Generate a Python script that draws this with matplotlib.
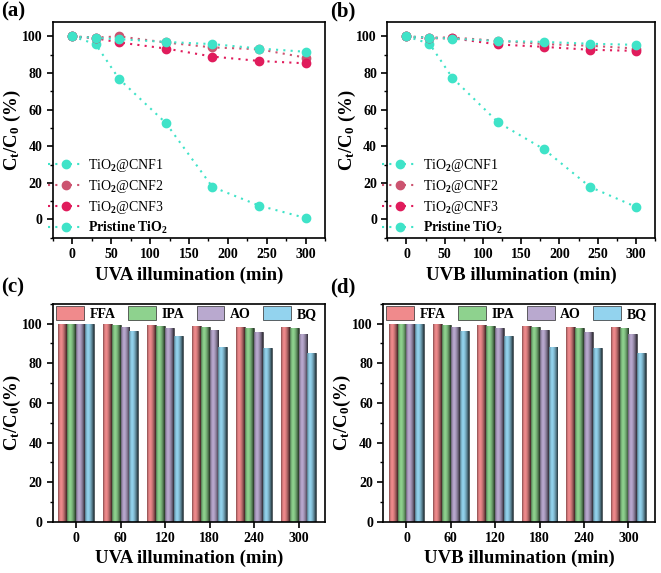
import matplotlib.pyplot as plt
from matplotlib.ticker import MultipleLocator
from matplotlib.colors import to_rgb
import numpy as np

plt.rcParams['font.family'] = ['Liberation Serif', 'DejaVu Serif']
plt.rcParams['font.weight'] = 'bold'
plt.rcParams['axes.linewidth'] = 1.2
plt.rcParams['mathtext.fontset'] = 'custom'
plt.rcParams['mathtext.rm'] = 'Liberation Serif:bold'
plt.rcParams['mathtext.it'] = 'Liberation Serif:bold'
plt.rcParams['mathtext.bf'] = 'Liberation Serif:bold'

# data for line plots (a) and (b)
t_min = [0, 30, 60, 120, 180, 240, 300]
series_names = ['TiO$_2$@CNF1', 'TiO$_2$@CNF2', 'TiO$_2$@CNF3', 'Pristine TiO$_2$']
uva_cnf1 = [100, 95.8, 76.8, 52.8, 17.8, 7.6, 0.8]
uva_cnf2 = [100, 99.4, 100, 96.7, 94.0, 93.0, 88.4]
uva_cnf3 = [100, 99.0, 96.7, 93.4, 89.0, 86.6, 85.3]
uva_pristine = [100, 99.2, 98.5, 97.0, 95.8, 93.4, 91.6]
uvb_cnf1 = [100, 96.1, 77.4, 53.0, 38.3, 17.8, 6.9]
uvb_cnf2 = [100, 99.4, 99.4, 97.6, 95.8, 94.9, 93.4]
uvb_cnf3 = [100, 99.0, 99.0, 95.6, 94.3, 92.7, 92.1]
uvb_pristine = [100, 99.3, 98.8, 97.5, 97.0, 96.0, 95.4]

# data for bar plots (c) and (d)
bar_times = ['0', '60', '120', '180', '240', '300']
scav_names = ['FFA', 'IPA', 'AO', 'BQ']
ffa = [100, 100, 99.3, 98.8, 98.5, 98.3]
ipa = [100, 99.3, 98.7, 98.2, 97.8, 97.5]
ao = [100, 98.1, 97.8, 96.5, 95.9, 94.9]
bq = [100, 96.0, 93.6, 88.0, 87.5, 85.3]

line_colors = ['#3fe3c8', '#cc5470', '#e01c5c', '#3fe3c8']
bar_colors = ['#f08a8c', '#8ed28e', '#b9a9cf', '#93d3ee']

fig = plt.figure(figsize=(6.61, 5.73), dpi=100)
ax_a = fig.add_axes([0.080, 0.585, 0.412, 0.377])
ax_b = fig.add_axes([0.586, 0.585, 0.405, 0.377])
ax_c = fig.add_axes([0.080, 0.089, 0.412, 0.381])
ax_d = fig.add_axes([0.580, 0.089, 0.411, 0.381])


def linepanel(ax, data, xlab):
    for i, y in enumerate(data):
        ax.plot(t_min, y, ls=(0, (1, 2.5)), lw=1.5, color=line_colors[i],
                marker='o', ms=6, mec=line_colors[i], label=series_names[i])
    ax.set_xlim(-25, 325)
    ax.set_ylim(-10, 108)
    ax.xaxis.set_major_locator(MultipleLocator(50))
    ax.xaxis.set_minor_locator(MultipleLocator(25))
    ax.yaxis.set_major_locator(MultipleLocator(20))
    ax.yaxis.set_minor_locator(MultipleLocator(10))
    ax.tick_params(which='major', direction='out', length=4, width=1.2, labelsize=10)
    ax.tick_params(which='minor', direction='out', length=2, width=1)
    ax.set_xlabel(xlab, fontsize=13.5, fontweight='bold', labelpad=4)
    ax.set_ylabel('C$_\\mathrm{t}$/C$_0$ (%)', fontsize=13.5, fontweight='bold')
    ax.yaxis.set_label_coords(-0.11, 0.5)
    leg = ax.legend(loc='lower left', bbox_to_anchor=(-0.024, 0.0), frameon=False,
                    fontsize=10, handlelength=2.6, handletextpad=0.3, labelspacing=0.3,
                    borderaxespad=0, borderpad=0.1, numpoints=1)
    for k, txt in enumerate(leg.get_texts()):
        if k < 3:
            txt.set_fontweight('normal')


def shade(color, n=40):
    base = np.array(to_rgb(color))
    t = np.linspace(0, 1, n)
    dark = np.where(t < 0.35, ((0.35 - t) / 0.35) ** 2 * 0.45, ((t - 0.35) / 0.65) ** 1.6 * 0.75)
    rgb = base[None, :] * (1 - dark[:, None])
    return rgb[None, :, :]


def barpanel(ax, xlab):
    x = np.arange(len(bar_times))
    w = 0.2
    for i, vals in enumerate([ffa, ipa, ao, bq]):
        bars = ax.bar(x + (i - 1.5) * w, vals, w, color=bar_colors[i], edgecolor='#2a2a2a',
                      lw=0.5, label=scav_names[i])
        grad = shade(bar_colors[i])
        for p in bars.patches:
            im = ax.imshow(grad, extent=[p.get_x(), p.get_x() + p.get_width(), 0, p.get_height()],
                           aspect='auto', zorder=1.5, interpolation='bilinear')
            im.set_clip_path(p)
    ax.set_xlim(-0.52, 5.6)
    ax.set_ylim(0, 110)
    ax.set_xticks(x)
    ax.set_xticklabels(bar_times)
    ax.yaxis.set_major_locator(MultipleLocator(20))
    ax.yaxis.set_minor_locator(MultipleLocator(10))
    ax.tick_params(which='major', direction='out', length=4, width=1.2, labelsize=10)
    ax.tick_params(which='minor', direction='out', length=2, width=1)
    ax.set_xlabel(xlab, fontsize=13.5, fontweight='bold', labelpad=3)
    ax.set_ylabel('C$_\\mathrm{t}$/C$_0$(%)', fontsize=13.5, fontweight='bold')
    ax.yaxis.set_label_coords(-0.11, 0.5)
    ax.legend(loc='upper center', bbox_to_anchor=(0.49, 1.0), ncol=4, frameon=False,
              fontsize=10, handlelength=2.0, handleheight=1.1, columnspacing=0.9,
              handletextpad=0.4, borderaxespad=0.1, borderpad=0.1)


linepanel(ax_a, [uva_cnf1, uva_cnf2, uva_cnf3, uva_pristine], 'UVA illumination (min)')
linepanel(ax_b, [uvb_cnf1, uvb_cnf2, uvb_cnf3, uvb_pristine], 'UVB illumination (min)')
barpanel(ax_c, 'UVA illumination (min)')
barpanel(ax_d, 'UVB illumination (min)')

fig.text(0.002, 0.997, '(a)', fontsize=15, fontweight='bold', va='top')
fig.text(0.500, 0.997, '(b)', fontsize=15, fontweight='bold', va='top')
fig.text(0.002, 0.515, '(c)', fontsize=15, fontweight='bold', va='top')
fig.text(0.500, 0.515, '(d)', fontsize=15, fontweight='bold', va='top')

fig.savefig('out.png', dpi=100)
